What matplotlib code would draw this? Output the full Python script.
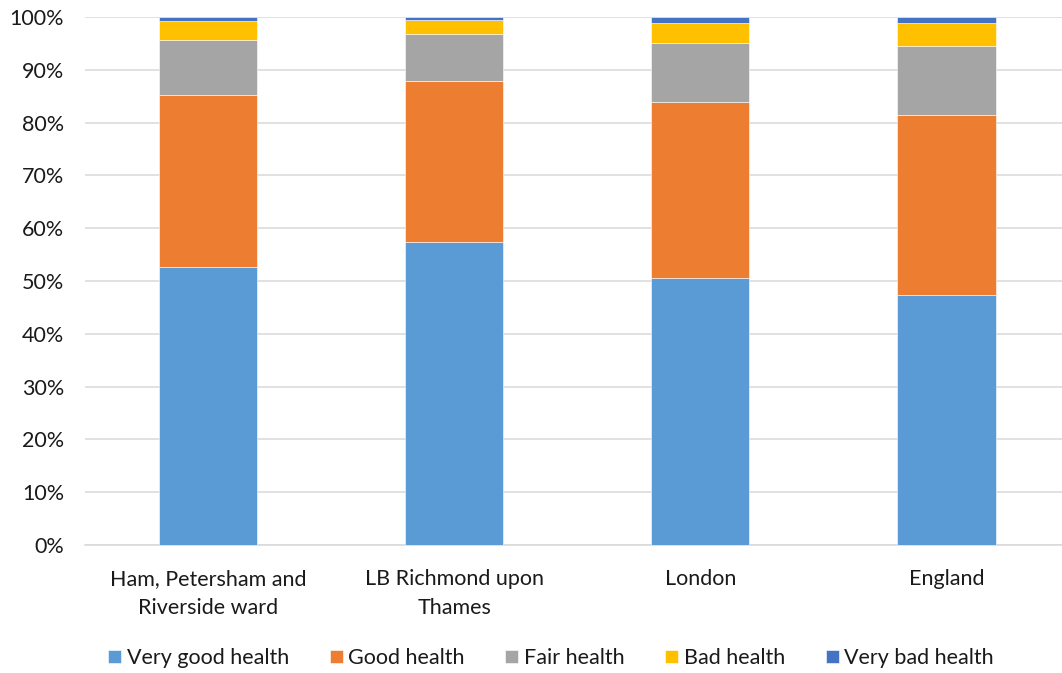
import matplotlib.pyplot as plt
import numpy as np

plt.rcParams['font.family'] = ['Lato', 'DejaVu Sans']

areas = ['Ham, Petersham and\nRiverside ward', 'LB Richmond upon\nThames', 'London', 'England']
series = ['Very good health', 'Good health', 'Fair health', 'Bad health', 'Very bad health']
very_good = [52.6, 57.4, 50.5, 47.3]
good = [32.7, 30.4, 33.4, 34.2]
fair = [10.4, 9.0, 11.2, 13.1]
bad = [3.5, 2.6, 3.8, 4.3]
very_bad = [0.8, 0.6, 1.1, 1.1]
colors = ['#5B9BD5', '#ED7D31', '#A5A5A5', '#FFC000', '#4472C4']

fig = plt.figure(figsize=(10.62, 6.73), dpi=100)
ax = fig.add_axes([85/1062, 1-545/673, (1062-85)/1062, 528/673])

x = np.arange(len(areas))
bottom = np.zeros(len(areas))
for name, vals, c in zip(series, [very_good, good, fair, bad, very_bad], colors):
    vals = np.array(vals)
    ax.bar(x, vals, 0.4, bottom=bottom, color=c, label=name, zorder=3,
           edgecolor='white', linewidth=0.4)
    bottom += vals

ax.set_xlim(-0.5, 3.47)
ax.set_ylim(0, 100)
ax.set_yticks(range(0, 101, 10))
ax.set_yticklabels([f'{v}%' for v in range(0, 101, 10)])
ax.set_xticks(x)
ax.set_xticklabels(areas, linespacing=1.6)
ax.tick_params(length=0, labelsize=15.5, colors='#1a1a1a')
ax.tick_params(axis='x', pad=17)
ax.tick_params(axis='y', pad=15)
ax.grid(axis='y', color='#D9D9D9', linewidth=1.1, zorder=0)
for s in ['top', 'right', 'left']:
    ax.spines[s].set_visible(False)
ax.spines['bottom'].set_color('#D9D9D9')
ax.spines['bottom'].set_linewidth(1.1)

fig.legend(loc='center', bbox_to_anchor=(551/1062, 1-658/673), ncol=5, frameon=False,
           fontsize=15.5, handlelength=0.6, handleheight=0.6, handletextpad=0.25,
           columnspacing=1.9, labelcolor='#1a1a1a')

fig.savefig('out.png', dpi=100)
